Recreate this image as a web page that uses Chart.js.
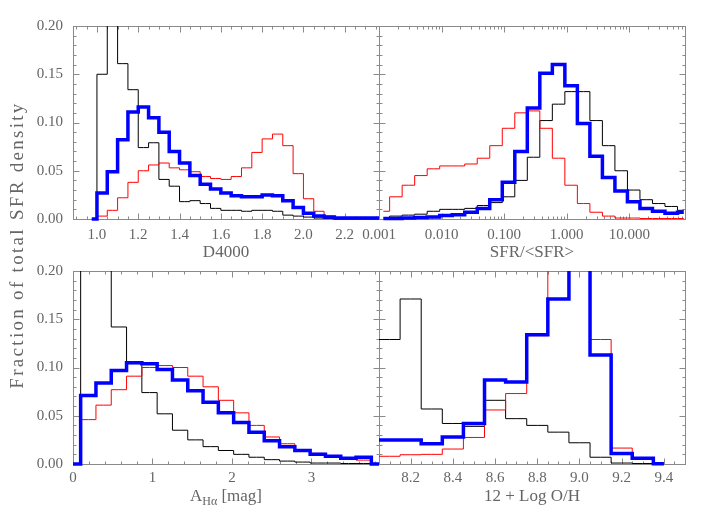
<!DOCTYPE html>
<html>
<head>
<meta charset="utf-8">
<script src="https://cdn.jsdelivr.net/npm/chart.js@4.4.1/dist/chart.umd.min.js"></script>
<style>
  body { margin: 0; background: #fff; }
  #wrap { position: relative; width: 722px; height: 516px; }
  #wrap canvas { position: absolute; left: 0; top: 0; }
</style>
</head>
<body>
<div id="wrap">
  <canvas id="tl" width="722" height="516"></canvas>
  <canvas id="tr" width="722" height="516"></canvas>
  <canvas id="bl" width="722" height="516"></canvas>
  <canvas id="br" width="722" height="516"></canvas>
</div>
<script>
// histogram bin centres + values (fraction of total SFR density)
// thin black, thin red, thick blue

// D4000
const d4000 = [0.975, 1.025, 1.075, 1.125, 1.175, 1.225, 1.275, 1.325, 1.375, 1.425, 1.475, 1.525, 1.575, 1.625, 1.675,
  1.725, 1.775, 1.825, 1.875, 1.925, 1.975, 2.025, 2.075, 2.125, 2.175, 2.225, 2.275, 2.325, 2.375];
const d4000Black = [0, 0.150, 0.300, 0.161, 0.134, 0.074, 0.079, 0.041, 0.034, 0.018, 0.019, 0.016, 0.011, 0.009, 0.009,
  0.008, 0.009, 0.009, 0.008, 0.004, 0.003, 0.002, 0.001, 0.0005, 0, 0, 0, 0, 0];
const d4000Red = [0, 0.003, 0.009, 0.022, 0.038, 0.050, 0.056, 0.058, 0.053, 0.051, 0.049, 0.044, 0.042, 0.041, 0.044,
  0.053, 0.069, 0.083, 0.088, 0.076, 0.047, 0.021, 0.008, 0.003, 0.001, 0, 0, 0, 0];
const d4000Blue = [0, 0.027, 0.049, 0.082, 0.111, 0.116, 0.105, 0.090, 0.070, 0.058, 0.045, 0.036, 0.031, 0.027, 0.024,
  0.023, 0.023, 0.025, 0.024, 0.019, 0.012, 0.006, 0.003, 0.002, 0.001, 0.001, 0.001, 0.001, 0.001];
const d4000Ticks = [1.0, 1.2, 1.4, 1.6, 1.8, 2.0, 2.2];

// SFR/<SFR> (log bins)
const sfr = [0.001175, 0.001862, 0.002951, 0.004677, 0.007413, 0.01175, 0.01862, 0.02951, 0.04677, 0.07413,
  0.1175, 0.1862, 0.2951, 0.4677, 0.7413, 1.175, 1.862, 2.951, 4.677, 7.413, 11.75, 18.62, 29.51, 46.77, 74.13];
const sfrBlack = [0.001, 0.003, 0.004, 0.005, 0.008, 0.010, 0.010, 0.011, 0.014, 0.017, 0.023, 0.040, 0.064,
  0.102, 0.119, 0.132, 0.132, 0.102, 0.076, 0.050, 0.030, 0.020, 0.016, 0.013, 0.009];
const sfrRed = [0.008, 0.023, 0.035, 0.045, 0.052, 0.055, 0.055, 0.057, 0.063, 0.076, 0.094, 0.110, 0.112,
  0.094, 0.063, 0.035, 0.016, 0.007, 0.003, 0.001, 0.001, 0.0005, 0.0005, 0.0005, 0.0005];
const sfrBlue = [0.0005, 0.0005, 0.001, 0.0015, 0.002, 0.0035, 0.0045, 0.007, 0.011, 0.020, 0.038, 0.070, 0.115,
  0.151, 0.160, 0.138, 0.099, 0.065, 0.043, 0.029, 0.018, 0.011, 0.008, 0.006, 0.007];
const sfrTicks = [0.001, 0.01, 0.1, 1, 10];

// A_Halpha
const aha = [0, 0.1925, 0.385, 0.5775, 0.77, 0.9625, 1.155, 1.3475, 1.54, 1.7325, 1.925, 2.1175, 2.31, 2.5025,
  2.695, 2.8875, 3.08, 3.2725, 3.465, 3.6575, 3.85];
const ahaBlack = [0, 0.40, 0.30, 0.142, 0.104, 0.074, 0.052, 0.035, 0.025, 0.018, 0.014, 0.010, 0.007, 0.0045,
  0.003, 0.002, 0.001, 0.001, 0.0005, 0.0005, 0];
const ahaRed = [0, 0.046, 0.061, 0.077, 0.091, 0.100, 0.102, 0.100, 0.091, 0.080, 0.066, 0.053, 0.040, 0.028,
  0.021, 0.015, 0.011, 0.008, 0.005, 0.004, 0];
const ahaBlue = [0, 0.071, 0.084, 0.097, 0.105, 0.104, 0.098, 0.087, 0.076, 0.064, 0.053, 0.043, 0.033, 0.024,
  0.018, 0.014, 0.010, 0.008, 0.006, 0.007, 0];
const ahaTicks = [0, 1, 2, 3];

// 12 + log O/H
const oh = [8.0, 8.1, 8.2, 8.3, 8.4, 8.5, 8.6, 8.7, 8.8, 8.9, 9.0, 9.1, 9.2, 9.3, 9.4];
const ohBlack = [0.129, 0.129, 0.171, 0.057, 0.042, 0.039, 0.066, 0.047, 0.040, 0.033, 0.022, 0.007, 0.001, 0.0005, 0];
const ohRed = [0.008, 0.008, 0.0096, 0.010, 0.0155, 0.0275, 0.056, 0.073, 0.133, 0.250, 0.260, 0.129, 0.0165, 0.0055, 0];
const ohBlue = [0.025, 0.025, 0.025, 0.021, 0.028, 0.042, 0.087, 0.085, 0.134, 0.171, 0.300, 0.113, 0.011, 0.006, 0.0003];
const ohTicks = [8.2, 8.4, 8.6, 8.8, 9.0, 9.2, 9.4];

const fracTicks = [0, 0.05, 0.10, 0.15, 0.20];
const yTitleText = "Fraction of total SFR density";

const SERIF = '"Liberation Serif", "DejaVu Serif", serif';
const TEXT = '#666666';
const AXIS = '#8a8a8a';

function steps(from, to, step) {
  const out = [];
  for (let v = from; v <= to + 1e-9; v += step) out.push(+v.toFixed(4));
  return out;
}
const fracMinor = steps(0, 0.2, 0.01);
const logMinor = [];
[0.001, 0.01, 0.1, 1, 10].forEach(d => { for (let m = 2; m < 10; m++) logMinor.push(m * d); });

function series(xs, ys, color, width, order) {
  return {
    data: xs.map((x, i) => ({ x: x, y: ys[i] })),
    borderColor: color,
    borderWidth: width,
    stepped: 'middle',
    pointRadius: 0,
    fill: false,
    order: order,
    borderJoinStyle: 'miter',
    clip: { left: 0, top: 0, right: 0, bottom: 3 },
  };
}

// box with inward ticks on all sides + x title (IDL look)
function decor(p) {
  return {
    id: 'decor',
    beforeDatasetsDraw(chart) {
      const { ctx, chartArea: a } = chart;
      const sx = chart.scales.x, sy = chart.scales.y;
      const L = Math.floor(a.left) + 0.5, R = Math.floor(a.right) + 0.5;
      const T = Math.floor(a.top) + 0.5, B = Math.floor(a.bottom) + 0.5;
      ctx.save();
      ctx.strokeStyle = AXIS;
      ctx.lineWidth = 1;
      ctx.strokeRect(L, T, R - L, B - T);
      ctx.beginPath();
      const xt = (vals, len) => vals.forEach(v => {
        const px = Math.round(sx.getPixelForValue(v)) + 0.5;
        if (px <= L || px >= R) return;
        ctx.moveTo(px, B); ctx.lineTo(px, B - len);
        ctx.moveTo(px, T); ctx.lineTo(px, T + len);
      });
      const yt = (vals, len) => vals.forEach(v => {
        const py = Math.round(sy.getPixelForValue(v)) + 0.5;
        if (py <= T || py >= B) return;
        ctx.moveTo(L, py); ctx.lineTo(L + len, py);
        ctx.moveTo(R, py); ctx.lineTo(R - len, py);
      });
      xt(p.minor, 3); xt(p.ticks, 6);
      yt(fracMinor, 3); yt(fracTicks, 6);
      ctx.stroke();
      ctx.restore();
    },
    afterDraw(chart) {
      const { ctx, chartArea: a } = chart;
      ctx.save();
      ctx.fillStyle = TEXT;
      ctx.textBaseline = 'middle';
      ctx.textAlign = 'left';
      const big = '17px ' + SERIF, small = '12px ' + SERIF;
      const t = p.title;
      ctx.font = big;
      const w1 = ctx.measureText(t[0]).width;
      const w3 = t[2] ? ctx.measureText(t[2]).width : 0;
      ctx.font = small;
      const w2 = t[1] ? ctx.measureText(t[1]).width : 0;
      let x = (a.left + a.right) / 2 - (w1 + w2 + w3) / 2;
      const y = a.bottom + p.titleOff;
      ctx.font = big; ctx.fillText(t[0], x, y); x += w1;
      if (t[1]) { ctx.font = small; ctx.fillText(t[1], x, y + 5); x += w2; }
      if (t[2]) { ctx.font = big; ctx.fillText(t[2], x, y); }
      if (p.yTitle) {
        ctx.translate(18, 245);
        ctx.rotate(-Math.PI / 2);
        ctx.font = '19px ' + SERIF;
        ctx.textAlign = 'center';
        ctx.letterSpacing = '2.3px';
        ctx.fillText(p.yTitle, 0, 0);
      }
      ctx.restore();
    }
  };
}

function panel(id, p) {
  return new Chart(document.getElementById(id), {
    type: 'line',
    data: {
      datasets: [
        series(p.x, p.blue, '#0000ff', 3.5, 0),
        series(p.x, p.red, '#ff0000', 1, 1),
        series(p.x, p.black, '#000000', 1, 2),
      ]
    },
    options: {
      responsive: false,
      animation: false,
      events: [],
      devicePixelRatio: 1,
      layout: { padding: p.pad },
      plugins: { legend: { display: false }, tooltip: { enabled: false } },
      scales: {
        x: {
          type: p.log ? 'logarithmic' : 'linear',
          min: p.min,
          max: p.max,
          afterBuildTicks: s => { s.ticks = p.ticks.map(v => ({ value: v })); },
          afterFit: s => { s.height = 28; },
          grid: { display: false, drawTicks: false },
          border: { display: false },
          ticks: {
            autoSkip: false, maxRotation: 0, minRotation: 0,
            color: TEXT, font: { family: SERIF, size: 15 }, padding: p.tickPad,
            callback: p.fmt,
          },
        },
        y: {
          min: 0,
          max: 0.2,
          display: p.yLabels,
          afterBuildTicks: s => { s.ticks = fracTicks.map(v => ({ value: v })); },
          afterFit: s => { s.width = p.yLabels ? 40 : 0; },
          grid: { display: false, drawTicks: false },
          border: { display: false },
          ticks: { color: TEXT, font: { family: SERIF, size: 15 }, padding: 10, callback: v => v.toFixed(2) },
        },
      },
    },
    plugins: [decor(p)],
  });
}

panel('tl', {
  x: d4000, black: d4000Black, red: d4000Red, blue: d4000Blue,
  min: 0.884, max: 2.366, ticks: d4000Ticks, minor: steps(0.9, 2.35, 0.05), fmt: v => v.toFixed(1),
  pad: { left: 33, top: 26, right: 343, bottom: 269 }, yLabels: true, tickPad: 7,
  title: ['D4000'], titleOff: 34,
});
panel('tr', {
  x: sfr, black: sfrBlack, red: sfrRed, blue: sfrBlue, log: true,
  min: 0.001, max: 77.6, ticks: sfrTicks, minor: logMinor, fmt: v => v.toFixed(3),
  pad: { left: 379, top: 26, right: 37, bottom: 269 }, yLabels: false, tickPad: 7,
  title: ['SFR/<SFR>'], titleOff: 34,
});
panel('bl', {
  x: aha, black: ahaBlack, red: ahaRed, blue: ahaBlue,
  min: 0, max: 3.85, ticks: ahaTicks, minor: steps(0.2, 3.8, 0.2), fmt: v => String(v),
  pad: { left: 33, top: 271, right: 343, bottom: 24 }, yLabels: true, tickPad: 5,
  title: ['A', 'H\u03b1', ' [mag]'], titleOff: 33, yTitle: yTitleText,
});
panel('br', {
  x: oh, black: ohBlack, red: ohRed, blue: ohBlue,
  min: 8.05, max: 9.5, ticks: ohTicks, minor: steps(8.1, 9.5, 0.05), fmt: v => v.toFixed(1),
  pad: { left: 379, top: 271, right: 37, bottom: 24 }, yLabels: false, tickPad: 5,
  title: ['12 + Log O/H'], titleOff: 33,
});
</script>
</body>
</html>
